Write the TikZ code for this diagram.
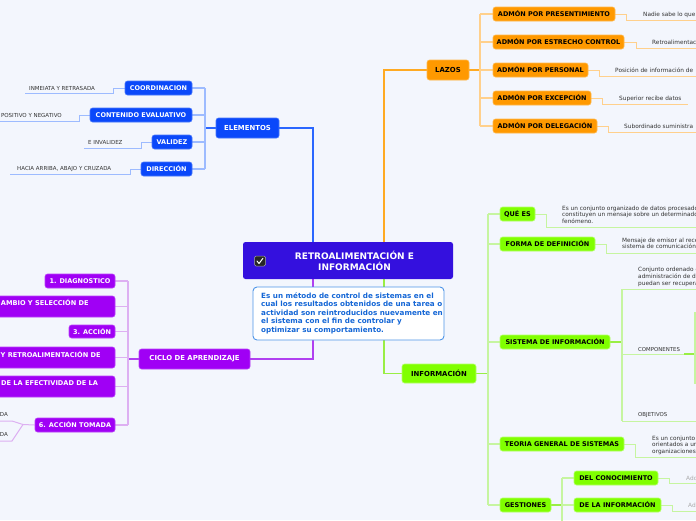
\documentclass[tikz,border=0pt]{standalone}
\usepackage{fontspec}
\setmainfont{DejaVu Sans}
\pgfdeclarelayer{bg}
\pgfsetlayers{bg,main}
\definecolor{bgc}{HTML}{F3F6FD}
\definecolor{mainc}{HTML}{3410DE}
\definecolor{bluec}{HTML}{0A48FA}
\definecolor{bluel}{HTML}{9DBBFF}
\definecolor{bluem}{HTML}{2A66FF}
\definecolor{orc}{HTML}{FF9900}
\definecolor{orl}{HTML}{FFD08C}
\definecolor{orm}{HTML}{FFAA22}
\definecolor{grc}{HTML}{80FF00}
\definecolor{grl}{HTML}{C6F5A0}
\definecolor{grm}{HTML}{99EE44}
\definecolor{puc}{HTML}{A000F5}
\definecolor{pul}{HTML}{DDB0F2}
\definecolor{pum}{HTML}{B040F0}
\definecolor{descb}{HTML}{4D94E8}
\definecolor{desct}{HTML}{1466D6}
\definecolor{leaft}{HTML}{333333}
\definecolor{addt}{HTML}{AAAAAA}
\tikzset{
  box/.style={rectangle, rounded corners=2.5pt, inner sep=0pt, line width=0.6pt,
    font=\fontsize{6.5}{7}\selectfont\bfseries},
  lvlone/.style={font=\fontsize{6.9}{8}\selectfont\bfseries},
  bnode/.style={box, fill=bluec, draw=bluec!75!white, text=white},
  onode/.style={box, fill=orc, draw=orc!70!white, text=black},
  gnode/.style={box, fill=grc, draw=grc!60!white, text=black},
  pnode/.style={box, fill=puc, draw=puc!75!white, text=white},
  ptext/.style={inner sep=0pt, anchor=west, text=white, font=\fontsize{6.6}{7}\selectfont\bfseries},
  central/.style={rectangle, rounded corners=2.5pt, fill=mainc, inner sep=0pt},
  centtext/.style={inner sep=0pt, text=white, align=center, font=\fontsize{9}{11}\selectfont\bfseries},
  chkbox/.style={rectangle, rounded corners=1.5pt, fill=black!85, draw=gray!70, line width=0.5pt,
    minimum width=11, minimum height=10, inner sep=0pt},
  descbox/.style={rectangle, rounded corners=4pt, fill=white, draw=descb, line width=0.9pt, inner sep=0pt},
  desctext/.style={inner sep=0pt, text=desct, align=left, font=\fontsize{7.2}{8.45}\selectfont\bfseries},
  leafl/.style={inner sep=0pt, text=leaft, font=\fontsize{5.5}{6.6}\selectfont},
  leafr/.style={inner sep=0pt, anchor=west, text=leaft, align=left, font=\fontsize{5.8}{6.6}\selectfont},
  leafc/.style={inner sep=0pt, anchor=west, text=leaft, font=\fontsize{5.4}{6.6}\selectfont},
  addnote/.style={inner sep=0pt, anchor=west, text=addt, font=\fontsize{5.8}{6.6}\selectfont},
  trunk/.style={line width=1.6pt},
  midl/.style={line width=1.3pt},
  brk/.style={line width=1.2pt},
  leafline/.style={line width=1pt},
}
\begin{document}
\begin{tikzpicture}[x=1pt,y=-1pt]
\useasboundingbox (0,0) rectangle (696,520);
\begin{pgfonlayer}{bg}
\fill[bgc] (0,0) rectangle (696,520);
\end{pgfonlayer}
\clip (0,0) rectangle (696,520);

% helper coordinates
\coordinate (bx) at (313,0);
\coordinate (ox) at (384,0);
\coordinate (eb) at (205,0);
\coordinate (lb) at (480,0);
\coordinate (ib) at (488,0);
\coordinate (cb) at (128,0);
\coordinate (sb) at (622,0);
\coordinate (gb) at (562,0);

% central
\node[central, minimum width=210, minimum height=37] (central) at (348,260.5) {};
\node[centtext] (centtxt) at (354.5,261) {RETROALIMENTACIÓN E\\INFORMACIÓN};
\node[chkbox] (chk) at (260,261) {};
\draw[white, line width=1pt, line cap=round, line join=round]
  ([shift={(-3,0)}]chk.center) -- ([shift={(-1,2.5)}]chk.center) -- ([shift={(3,-2.8)}]chk.center);

% description
\node[descbox, minimum width=191, minimum height=53] (desc) at (348.5,313.5) {};
\node[desctext, anchor=west] (desctxt) at (261,313.2) {Es un método de control de sistemas en el\\cual los resultados obtenidos de una tarea o\\actividad son reintroducidos nuevamente en\\el sistema con el fin de controlar y\\optimizar su comportamiento.};

% level one
\node[bnode, lvlone, minimum width=63, minimum height=20] (elem) at (247.5,128) {ELEMENTOS};
\node[onode, lvlone, minimum width=42, minimum height=20] (lazos) at (448,70) {LAZOS};
\node[gnode, lvlone, minimum width=74, minimum height=19] (info) at (439,373.5) {INFORMACIÓN};
\node[pnode, lvlone, minimum width=111, minimum height=20] (ciclo) at (194.5,359) {CICLO DE APRENDIZAJE};

% elementos children
\node[bnode, minimum width=67, minimum height=14] (coord) at (158.5,88) {COORDINACION};
\node[bnode, minimum width=102, minimum height=14] (cont) at (141,115) {CONTENIDO EVALUATIVO};
\node[bnode, minimum width=40, minimum height=14] (val) at (172,142) {VALIDEZ};
\node[bnode, minimum width=51, minimum height=14] (dir) at (166.5,169) {DIRECCIÓN};

\node[leafl, anchor=west] (t1) at (29,88.5) {INMEIATA Y RETRASADA};
\node[leafl, anchor=east] (t2) at (62,115.5) {POSITIVO Y NEGATIVO};
\node[leafl, anchor=west] (t3) at (88,142.5) {E INVALIDEZ};
\node[leafl, anchor=west] (t4) at (17,169.5) {HACIA ARRIBA, ABAJO Y CRUZADA};

% lazos children
\node[onode, minimum width=122, minimum height=14] (pres) at (554,14) {ADMÓN POR PRESENTIMIENTO};
\node[onode, minimum width=131, minimum height=14] (estr) at (558.5,42) {ADMÓN POR ESTRECHO CONTROL};
\node[onode, minimum width=95, minimum height=14] (pers) at (540.5,70) {ADMÓN POR PERSONAL};
\node[onode, minimum width=98, minimum height=14] (exc) at (542,98) {ADMÓN POR EXCEPCIÓN};
\node[onode, minimum width=104, minimum height=14] (dele) at (545,126) {ADMÓN POR DELEGACIÓN};

\node[leafr] (r1) at (643,14.5) {Nadie sabe lo que};
\node[leafr] (r2) at (652,42.5) {Retroalimentación};
\node[leafr] (r3) at (615,70.5) {Posición de información de};
\node[leafr] (r4) at (619,98.5) {Superior recibe datos};
\node[leafr] (r5) at (624,126.5) {Subordinado suministra};

% informacion children
\node[gnode, minimum width=35, minimum height=14] (quees) at (517.5,214) {QUÉ ES};
\node[gnode, minimum width=95, minimum height=14] (forma) at (547.5,244) {FORMA DE DEFINICIÓN};
\node[gnode, minimum width=110, minimum height=14] (sist) at (555,342) {SISTEMA DE INFORMACIÓN};
\node[gnode, minimum width=124, minimum height=14] (teoria) at (562,444) {TEORIA GENERAL DE SISTEMAS};
\node[gnode, minimum width=51, minimum height=14] (gest) at (525.5,505) {GESTIONES};
\node[gnode, minimum width=84, minimum height=14] (conoc) at (616,478) {DEL CONOCIMIENTO};
\node[gnode, minimum width=87, minimum height=14] (ginfo) at (617.5,505) {DE LA INFORMACIÓN};

\node[leafr] (g1) at (562,214.5) {Es un conjunto organizado de datos procesados, que\\constituyen un mensaje sobre un determinado ente o\\fenómeno.};
\node[leafr] (g2) at (622,243.8) {Mensaje de emisor al receptor\\sistema de comunicación,};
\node[leafr] (g3) at (638,276.8) {Conjunto ordenado de\\administración de datos\\puedan ser recuperados};
\node[leafc] (g4) at (638,349.5) {COMPONENTES};
\node[leafc] (g5) at (638,415.5) {OBJETIVOS};
\node[leafr] (g6) at (652,445.3) {Es un conjunto de\\orientados a un\\organizaciones.};
\node[addnote] (a1) at (686,478.5) {Add text};
\node[addnote] (a2) at (688,505.5) {Add text};

% ciclo children
\node[pnode, minimum width=70, minimum height=14] (c1) at (80,281) {1. DIAGNOSTICO};
\node[pnode, minimum width=155, minimum height=21] (c2) at (37.5,306.5) {};
\node[ptext] (c2t) at (0.7,302.3) {AMBIO Y SELECCIÓN DE};
\node[pnode, minimum width=46, minimum height=13] (c3) at (92,331.5) {3. ACCIÓN};
\node[pnode, minimum width=155, minimum height=21] (c4) at (37.5,357.5) {};
\node[ptext] (c4t) at (0.5,354.3) {Y RETROALIMENTACIÓN DE};
\node[pnode, minimum width=155, minimum height=21] (c5) at (37.5,386.5) {};
\node[ptext] (c5t) at (1,383.3) {DE LA EFECTIVIDAD DE LA};
\node[pnode, minimum width=80, minimum height=14] (c6) at (75,425) {6. ACCIÓN TOMADA};
\node[leafl, anchor=east] (d1) at (8,414.5) {DA};
\node[leafl, anchor=east] (d2) at (8,434.5) {DA};

% connectors
\begin{pgfonlayer}{bg}
\draw[bluem, trunk] (central.north -| bx) |- (elem.east);
\draw[orm, trunk] (central.north -| ox) |- (lazos.west);
\draw[pum, trunk] (central.south -| bx) |- (ciclo.east);
\draw[grm, trunk] (central.south -| ox) |- (info.west);

% elementos
\draw[bluem, midl] (elem.west) -- (elem.west -| eb);
\draw[bluel, brk] (eb |- coord.east) -- (eb |- dir.east);
\foreach \n in {coord,cont,val,dir} \draw[bluel, brk] (\n.east) -- (\n.east -| eb);
\coordinate (k1) at (113,93.5); \coordinate (e1) at (25,93.5);
\coordinate (k2) at (79,121); \coordinate (e2) at (-1,121);
\coordinate (k3) at (141,148); \coordinate (e3) at (84,148);
\coordinate (k4) at (130,174); \coordinate (e4) at (10,174);
\draw[bluel, leafline] (coord.west) -| (k1) -- (e1);
\draw[bluel, leafline] (cont.west) -| (k2) -- (e2);
\draw[bluel, leafline] (val.west) -| (k3) -- (e3);
\draw[bluel, leafline] (dir.west) -| (k4) -- (e4);

% lazos
\draw[orm, midl] (lazos.east) -- (lazos.east -| lb);
\draw[orl, brk] (lb |- pres.west) -- (lb |- dele.west);
\foreach \n in {pres,estr,pers,exc,dele} \draw[orl, brk] (\n.west) -- (\n.west -| lb);
\coordinate (ko1) at (626,20); \coordinate (eo1) at (697,20);
\coordinate (ko2) at (636,48); \coordinate (eo2) at (697,48);
\coordinate (ko3) at (599,76); \coordinate (eo3) at (697,76);
\coordinate (ko4) at (602,104); \coordinate (eo4) at (688,104);
\coordinate (ko5) at (608,132); \coordinate (eo5) at (697,132);
\draw[orl, leafline] (pres.east) -| (ko1) -- (eo1);
\draw[orl, leafline] (estr.east) -| (ko2) -- (eo2);
\draw[orl, leafline] (pers.east) -| (ko3) -- (eo3);
\draw[orl, leafline] (exc.east) -| (ko4) -- (eo4);
\draw[orl, leafline] (dele.east) -| (ko5) -- (eo5);

% informacion
\draw[grm, midl] (info.east) -- (info.east -| ib);
\draw[grl, brk] (ib |- quees.west) -- (ib |- gest.west);
\foreach \n in {quees,forma,sist,teoria,gest} \draw[grl, brk] (\n.west) -- (\n.west -| ib);
\coordinate (kg1) at (546,227); \coordinate (eg1) at (697,227);
\coordinate (kg2) at (606,253); \coordinate (eg2) at (697,253);
\coordinate (kg6) at (635,457); \coordinate (eg6) at (697,457);
\draw[grl, leafline] (quees.east) -| (kg1) -- (eg1);
\draw[grl, leafline] (forma.east) -| (kg2) -- (eg2);
\draw[grl, leafline] (teoria.east) -| (kg6) -- (eg6);
% sistema de informacion
\coordinate (st) at (622,289); \coordinate (ste) at (697,289);
\coordinate (sc) at (622,354); \coordinate (scm) at (684,354); \coordinate (sce) at (695,354);
\coordinate (sbt) at (622,421); \coordinate (sbe) at (697,421);
\coordinate (subt) at (695,312); \coordinate (subb) at (695,384);
\draw[grm, midl] (sist.east) -- (sist.east -| sb);
\draw[grl, brk] (st) -- (sbt);
\draw[grl, leafline] (st) -- (ste);
\draw[grl, leafline] (sc) -- (scm);
\draw[grm, midl] (scm) -- (sce);
\draw[grl, brk] (subt) -- (subb);
\draw[grl, leafline] (sbt) -- (sbe);
% gestiones
\coordinate (gend) at (562,522);
\draw[grm, midl] (gest.east) -- (gest.east -| gb);
\draw[grl, brk] (gb |- conoc.west) -- (gend);
\draw[grl, brk] (conoc.west) -- (conoc.west -| gb);
\draw[grl, brk] (ginfo.west) -- (ginfo.west -| gb);
\coordinate (kc1) at (669,483.5); \coordinate (ec1) at (697,483.5);
\coordinate (kc2) at (672,511); \coordinate (ec2) at (697,511);
\draw[grl, leafline] (conoc.east) -| (kc1) -- (ec1);
\draw[grl, leafline] (ginfo.east) -| (kc2) -- (ec2);

% ciclo
\draw[pum, midl] (ciclo.west) -- (ciclo.west -| cb);
\draw[pul, brk] (cb |- c1.east) -- (cb |- c6.east);
\foreach \n in {c1,c2,c3,c4,c5,c6} \draw[pul, brk] (\n.east) -- (\n.east -| cb);
\coordinate (jn) at (23,424.5);
\coordinate (kd1) at (12,421); \coordinate (ed1) at (-1,421);
\coordinate (kd2) at (12,441); \coordinate (ed2) at (-1,441);
\draw[pul, leafline] (c6.west) -- (jn) -- (kd1) -- (ed1);
\draw[pul, leafline] (jn) -- (kd2) -- (ed2);
\end{pgfonlayer}
\end{tikzpicture}
\end{document}
